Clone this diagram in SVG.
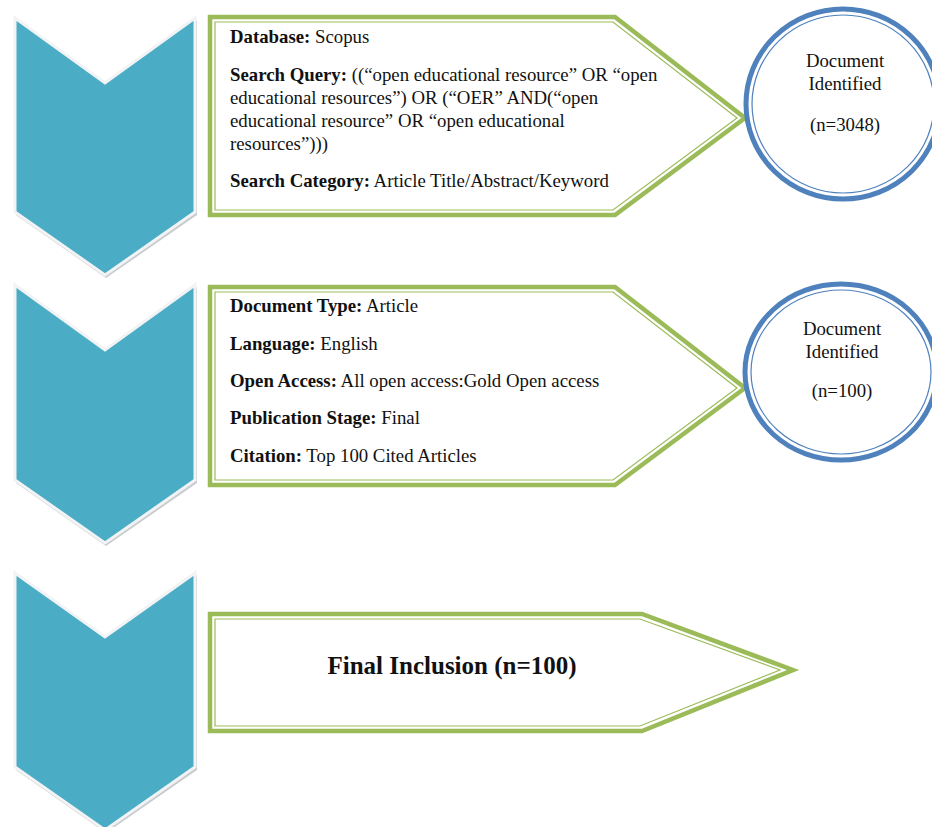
<svg xmlns="http://www.w3.org/2000/svg" width="932" height="827" viewBox="0 0 932 827">
<style>
.chev-sh{fill:#c8ccd0;stroke:none}
.chev{fill:#4bacc6;stroke:#f2f3f4;stroke-width:3;stroke-linejoin:miter}
.pent-o{fill:#ffffff;stroke:#9bbb59;stroke-width:4.5;stroke-linejoin:miter}
.pent-i{fill:none;stroke:#9bbb59;stroke-width:1.2;stroke-linejoin:miter}
.circ-o{fill:#ffffff;stroke:#4f81bd;stroke-width:5}
.circ-i{fill:none;stroke:#4f81bd;stroke-width:1.2}
.t{font-size:18.8px}
.b{font-weight:bold}
.c{font-size:18.8px;text-anchor:middle}
.fin{font-size:25px;font-weight:bold;text-anchor:middle}
</style>
<rect width="932" height="827" fill="#ffffff"/>
<g id="chevron1">
<polygon class="chev-sh" points="16,20 106,85 197,20 197,215 106,278 16,215"/>
<polygon class="chev" points="15,18 105,83 195,18 195,212 105,275 15,212"/>
</g>
<g id="chevron2">
<polygon class="chev-sh" points="16,287 106,352 197,287 197,483 106,546 16,483"/>
<polygon class="chev" points="15,285 105,350 195,285 195,480 105,543 15,480"/>
</g>
<g id="chevron3">
<polygon class="chev-sh" points="16,575 106,639 197,575 197,770 106,833 16,770"/>
<polygon class="chev" points="15,573 105,637 195,573 195,767 105,830 15,767"/>
</g>
<g font-family="'Liberation Serif', 'Times New Roman', Times, serif" fill="#111111">
<g id="step1">
<polygon class="pent-o" points="210,17 615,17 745,118 615,215 210,215"/>
<polygon class="pent-i" points="215,22 613,22 737,118 613,210 215,210"/>
<text class="t" x="230" y="43"><tspan class="b">Database:</tspan> Scopus</text>
<text class="t" x="230" y="81"><tspan class="b">Search Query:</tspan> ((“open educational resource” OR “open</text>
<text class="t" x="230" y="104">educational resources”) OR (“OER” AND(“open</text>
<text class="t" x="230" y="127">educational resource” OR “open educational</text>
<text class="t" x="230" y="150">resources”)))</text>
<text class="t" x="230" y="187"><tspan class="b">Search Category:</tspan> Article Title/Abstract/Keyword</text>
</g>
<g id="result1">
<ellipse class="circ-o" cx="843" cy="104" rx="97" ry="95"/>
<ellipse class="circ-i" cx="843" cy="104" rx="91" ry="89"/>
<text class="c" x="845" y="67">Document</text>
<text class="c" x="845" y="90">Identified</text>
<text class="c" x="845" y="131">(n=3048)</text>
</g>
<g id="step2">
<polygon class="pent-o" points="210,287 615,287 745,388 615,485 210,485"/>
<polygon class="pent-i" points="215,292 613,292 737,388 613,480 215,480"/>
<text class="t" x="230" y="312"><tspan class="b">Document Type:</tspan> Article</text>
<text class="t" x="230" y="350"><tspan class="b">Language:</tspan> English</text>
<text class="t" x="230" y="387"><tspan class="b">Open Access:</tspan> All open access:Gold Open access</text>
<text class="t" x="230" y="424"><tspan class="b">Publication Stage:</tspan> Final</text>
<text class="t" x="230" y="462"><tspan class="b">Citation:</tspan> Top 100 Cited Articles</text>
</g>
<g id="result2">
<ellipse class="circ-o" cx="841" cy="372" rx="96" ry="88"/>
<ellipse class="circ-i" cx="841" cy="372" rx="90" ry="82"/>
<text class="c" x="842" y="335">Document</text>
<text class="c" x="842" y="358">Identified</text>
<text class="c" x="842" y="397">(n=100)</text>
</g>
<g id="step3">
<polygon class="pent-o" points="210,614 642,614 793,670 642,731 210,731"/>
<polygon class="pent-i" points="215,619 640,619 780,670 640,726 215,726"/>
<text class="fin" x="452" y="674">Final Inclusion (n=100)</text>
</g>
</g>
<g id="connectors"></g>
</svg>
